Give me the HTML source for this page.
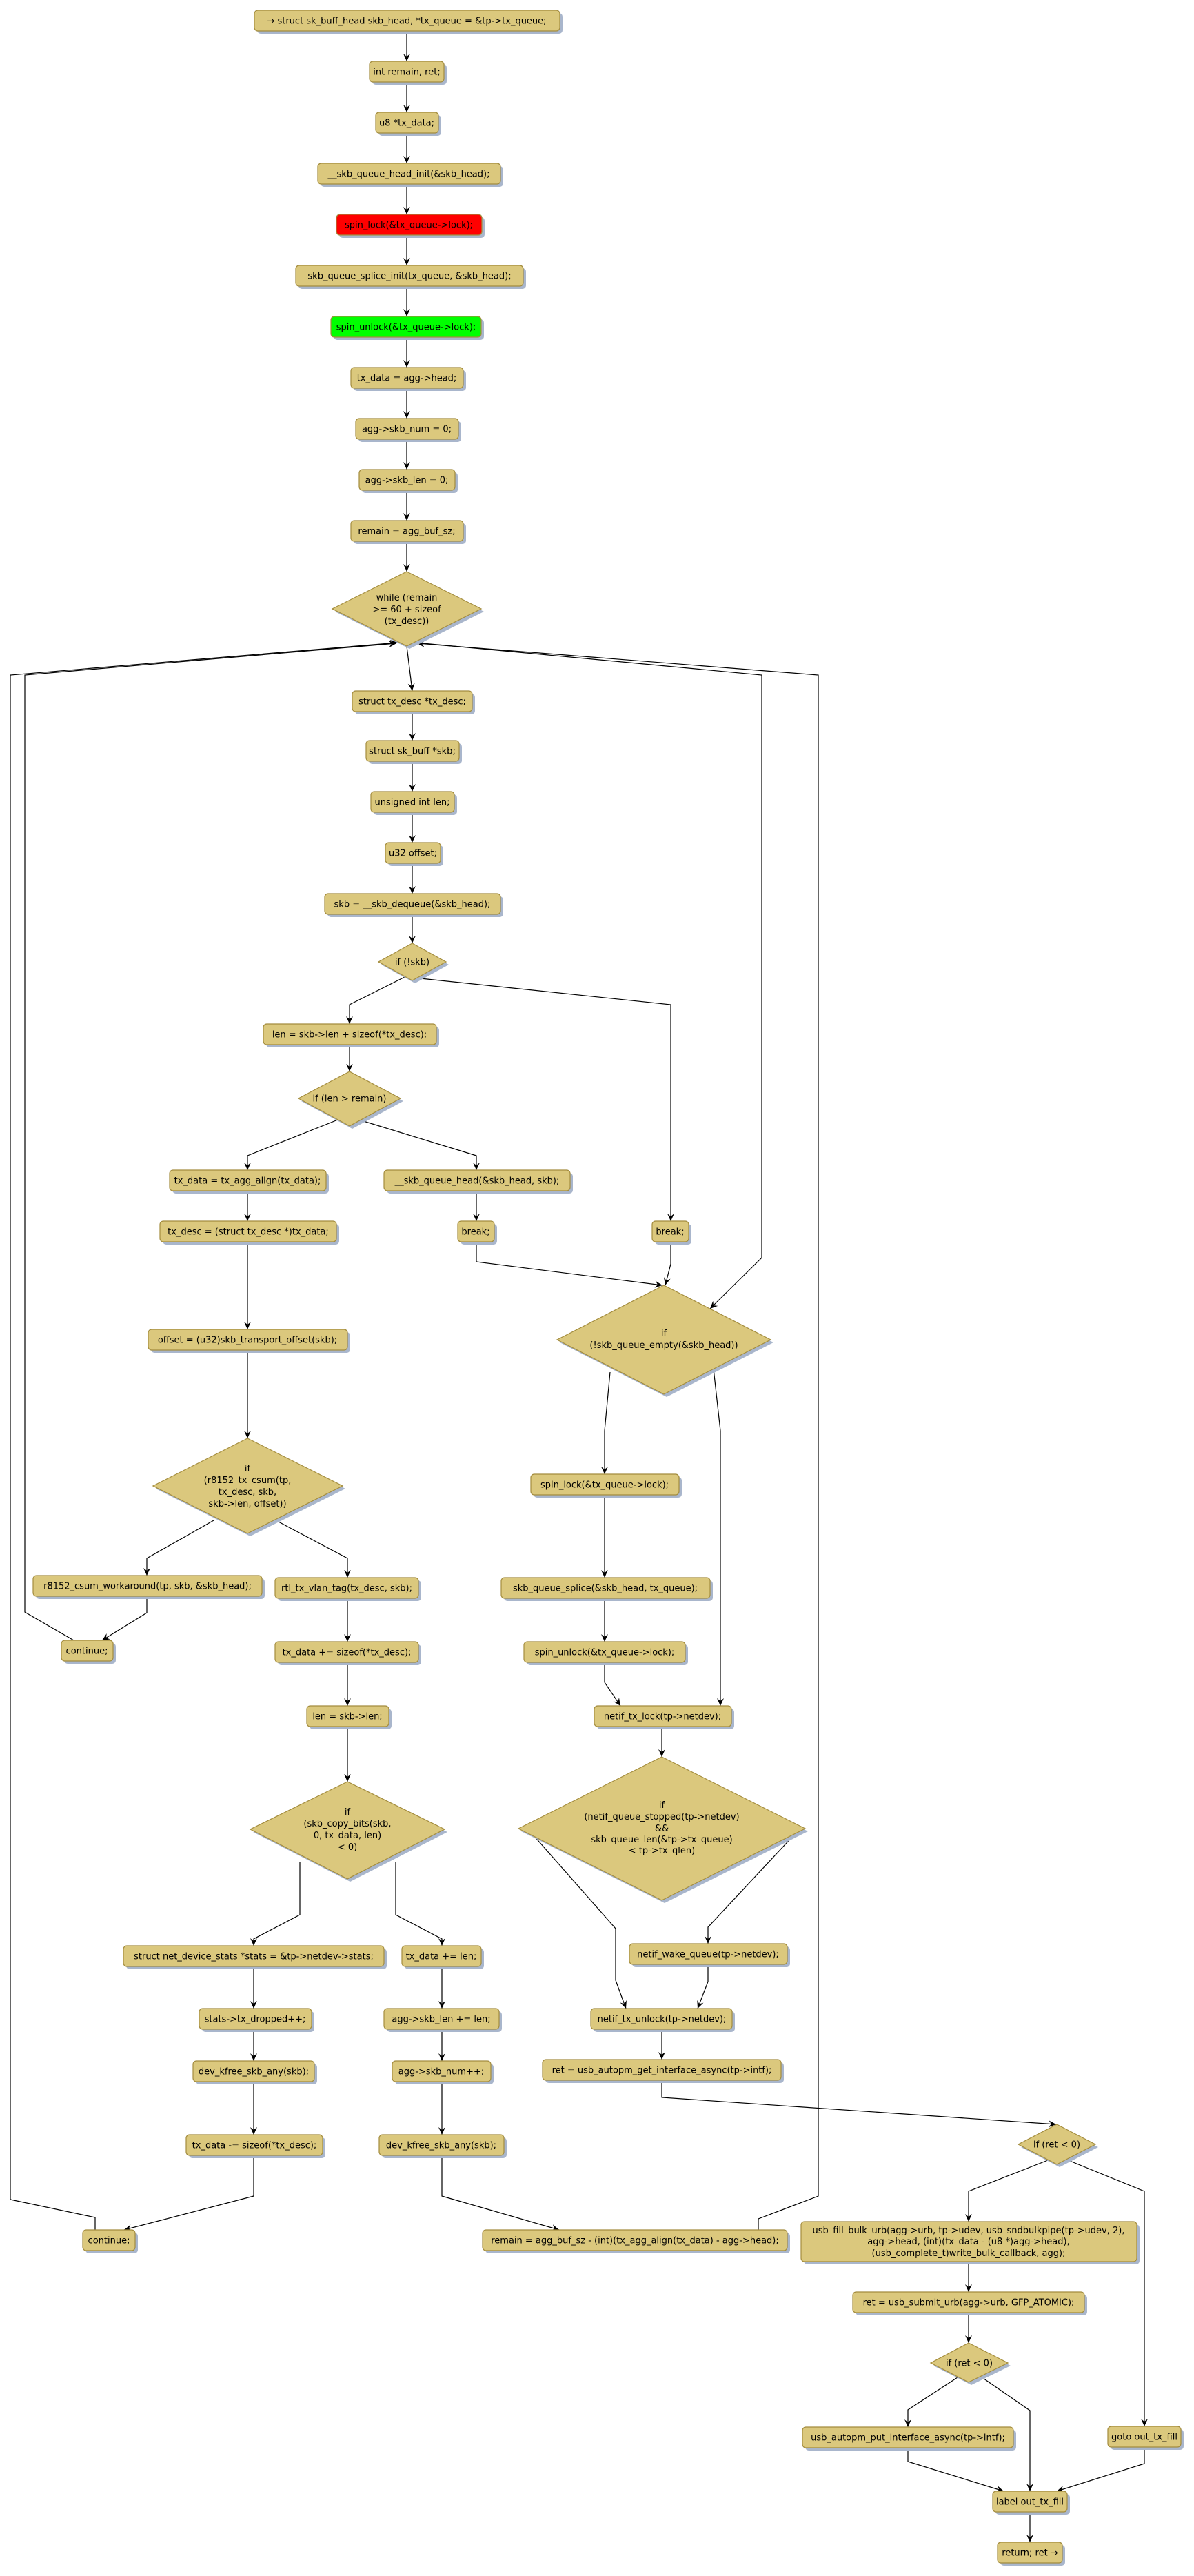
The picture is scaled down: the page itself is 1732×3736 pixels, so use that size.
<!DOCTYPE html>
<html><head><meta charset="utf-8"><style>
html,body{margin:0;padding:0;background:#fff;}
svg{display:block;}
text{font-family:"DejaVu Sans","Liberation Sans",sans-serif;font-size:13px;fill:#000;text-anchor:middle;}
.b{fill:#dbc87d;stroke:#a38c3e;stroke-width:1.2;}
.s{fill:#a9b6cc;}
.e{fill:none;stroke:#000;stroke-width:1.2;}
</style></head><body>
<svg width="1732" height="3736" viewBox="0 0 1732 3736" xmlns="http://www.w3.org/2000/svg">
<defs>
<marker id="a" markerUnits="userSpaceOnUse" markerWidth="12" markerHeight="10" refX="11" refY="5" orient="auto">
<path d="M0,0 L11,5 L0,10 L4,5 z" fill="#000"/></marker>
</defs>

<g class="e">
<path d="M590,45 V89" marker-end="url(#a)"/>
<path d="M590,119 V163" marker-end="url(#a)"/>
<path d="M590,193 V237" marker-end="url(#a)"/>
<path d="M590,267 V311" marker-end="url(#a)"/>
<path d="M590,341 V385" marker-end="url(#a)"/>
<path d="M590,415 V459" marker-end="url(#a)"/>
<path d="M590,489 V533" marker-end="url(#a)"/>
<path d="M590,563 V607" marker-end="url(#a)"/>
<path d="M590,637 V681" marker-end="url(#a)"/>
<path d="M590,711 V755" marker-end="url(#a)"/>
<path d="M590,785 V829" marker-end="url(#a)"/>
<path d="M590,937 L598,1002" marker-end="url(#a)"/>
<path d="M598,1032 V1074" marker-end="url(#a)"/>
<path d="M598,1104 V1148" marker-end="url(#a)"/>
<path d="M598,1178 V1222" marker-end="url(#a)"/>
<path d="M598,1252 V1296" marker-end="url(#a)"/>
<path d="M598,1326 V1368" marker-end="url(#a)"/>
<path d="M587,1417 L507,1457 V1485" marker-end="url(#a)"/>
<path d="M610,1419 L973,1457 V1771" marker-end="url(#a)"/>
<path d="M507,1515 V1554" marker-end="url(#a)"/>
<path d="M490,1624 L359,1676 V1697" marker-end="url(#a)"/>
<path d="M524,1625 L691,1676 V1697" marker-end="url(#a)"/>
<path d="M359,1727 V1771" marker-end="url(#a)"/>
<path d="M691,1727 V1771" marker-end="url(#a)"/>
<path d="M359,1801 V1928" marker-end="url(#a)"/>
<path d="M691,1801 V1830 L961,1864" marker-end="url(#a)"/>
<path d="M973,1801 V1833 L965,1864" marker-end="url(#a)"/>
<path d="M359,1958 V2086" marker-end="url(#a)"/>
<path d="M310,2205 L213,2260 V2285" marker-end="url(#a)"/>
<path d="M404,2207 L504,2260 V2288" marker-end="url(#a)"/>
<path d="M213,2315 V2339 L148,2379" marker-end="url(#a)"/>
<path d="M504,2318 V2381" marker-end="url(#a)"/>
<path d="M504,2411 V2474" marker-end="url(#a)"/>
<path d="M504,2504 V2584" marker-end="url(#a)"/>
<path d="M435,2701 V2777 L368,2812 V2822" marker-end="url(#a)"/>
<path d="M574,2701 V2777 L641,2812 V2822" marker-end="url(#a)"/>
<path d="M368,2852 V2913" marker-end="url(#a)"/>
<path d="M641,2852 V2913" marker-end="url(#a)"/>
<path d="M368,2943 V2989" marker-end="url(#a)"/>
<path d="M641,2943 V2989" marker-end="url(#a)"/>
<path d="M368,3019 V3096" marker-end="url(#a)"/>
<path d="M641,3019 V3096" marker-end="url(#a)"/>
<path d="M368,3126 V3185 L180,3234" marker-end="url(#a)"/>
<path d="M641,3126 V3185 L811,3234" marker-end="url(#a)"/>
<path d="M107,2379 L36,2338 V979 L575,933" marker-end="url(#a)"/>
<path d="M138,3234 V3216 L15,3190 V979 L577,932" marker-end="url(#a)"/>
<path d="M1100,3234 V3218 L1187,3185 V979 L605,933" marker-end="url(#a)"/>
<path d="M603,932 L1105,979 V1824 L1030,1898" marker-end="url(#a)"/>
<path d="M885,1990 L877,2075 V2138" marker-end="url(#a)"/>
<path d="M1035,1985 L1045,2075 V2474" marker-end="url(#a)"/>
<path d="M877,2168 V2288" marker-end="url(#a)"/>
<path d="M877,2318 V2381" marker-end="url(#a)"/>
<path d="M877,2411 V2440 L900,2474" marker-end="url(#a)"/>
<path d="M960,2504 V2548" marker-end="url(#a)"/>
<path d="M774,2662 L893,2797 V2872 L908,2913" marker-end="url(#a)"/>
<path d="M1153,2660 L1027,2795 V2819" marker-end="url(#a)"/>
<path d="M1027,2849 V2874 L1012,2913" marker-end="url(#a)"/>
<path d="M960,2943 V2987" marker-end="url(#a)"/>
<path d="M960,3017 V3042 L1532,3081" marker-end="url(#a)"/>
<path d="M1520,3133 L1405,3178 V3222" marker-end="url(#a)"/>
<path d="M1547,3132 L1660,3178 V3519" marker-end="url(#a)"/>
<path d="M1405,3280 V3324" marker-end="url(#a)"/>
<path d="M1405,3354 V3398" marker-end="url(#a)"/>
<path d="M1389,3448 L1317,3495 V3520" marker-end="url(#a)"/>
<path d="M1423,3447 L1494,3496 V3613" marker-end="url(#a)"/>
<path d="M1317,3550 V3570 L1456,3613" marker-end="url(#a)"/>
<path d="M1660,3549 V3573 L1533,3613" marker-end="url(#a)"/>
<path d="M1494,3643 V3687" marker-end="url(#a)"/>
</g>

<g>
<rect class="s" x="373" y="19" width="443" height="30" rx="5"/><rect class="b" x="369" y="15" width="443" height="30" rx="5"/><text x="590" y="34.5">→ struct sk_buff_head skb_head, *tx_queue = &amp;tp-&gt;tx_queue;</text>
<rect class="s" x="540" y="93" width="108" height="30" rx="5"/><rect class="b" x="536" y="89" width="108" height="30" rx="5"/><text x="590" y="108.5">int remain, ret;</text>
<rect class="s" x="549" y="167" width="91" height="30" rx="5"/><rect class="b" x="545" y="163" width="91" height="30" rx="5"/><text x="590" y="182.5">u8 *tx_data;</text>
<rect class="s" x="465" y="241" width="265" height="30" rx="5"/><rect class="b" x="461" y="237" width="265" height="30" rx="5"/><text x="593" y="256.5">__skb_queue_head_init(&amp;skb_head);</text>
<rect class="s" x="492" y="315" width="211" height="30" rx="5"/><rect x="488" y="311" width="211" height="30" rx="5" fill="#ff0000" stroke="#a38c3e" stroke-width="1.2"/><text x="593" y="330.5">spin_lock(&amp;tx_queue-&gt;lock);</text>
<rect class="s" x="433" y="389" width="330" height="30" rx="5"/><rect class="b" x="429" y="385" width="330" height="30" rx="5"/><text x="594" y="404.5">skb_queue_splice_init(tx_queue, &amp;skb_head);</text>
<rect class="s" x="484" y="463" width="218" height="30" rx="5"/><rect x="480" y="459" width="218" height="30" rx="5" fill="#00ff00" stroke="#a38c3e" stroke-width="1.2"/><text x="589" y="478.5">spin_unlock(&amp;tx_queue-&gt;lock);</text>
<rect class="s" x="513" y="537" width="163" height="30" rx="5"/><rect class="b" x="509" y="533" width="163" height="30" rx="5"/><text x="590" y="552.5">tx_data = agg-&gt;head;</text>
<rect class="s" x="520" y="611" width="149" height="30" rx="5"/><rect class="b" x="516" y="607" width="149" height="30" rx="5"/><text x="590" y="626.5">agg-&gt;skb_num = 0;</text>
<rect class="s" x="525" y="685" width="139" height="30" rx="5"/><rect class="b" x="521" y="681" width="139" height="30" rx="5"/><text x="590" y="700.5">agg-&gt;skb_len = 0;</text>
<rect class="s" x="513" y="759" width="163" height="30" rx="5"/><rect class="b" x="509" y="755" width="163" height="30" rx="5"/><text x="590" y="774.5">remain = agg_buf_sz;</text>

<polygon class="s" points="594,833 702,887 594,941 486,887"/><polygon class="b" points="590,829 698,883 590,937 482,883"/>
<text x="590" y="871">while (remain</text><text x="590" y="888">&gt;= 60 + sizeof</text><text x="590" y="905">(tx_desc))</text>

<rect class="s" x="515" y="1006" width="174" height="30" rx="5"/><rect class="b" x="511" y="1002" width="174" height="30" rx="5"/><text x="598" y="1021.5">struct tx_desc *tx_desc;</text>
<rect class="s" x="535" y="1078" width="135" height="30" rx="5"/><rect class="b" x="531" y="1074" width="135" height="30" rx="5"/><text x="598" y="1093.5">struct sk_buff *skb;</text>
<rect class="s" x="542" y="1152" width="121" height="30" rx="5"/><rect class="b" x="538" y="1148" width="121" height="30" rx="5"/><text x="598" y="1167.5">unsigned int len;</text>
<rect class="s" x="563" y="1226" width="80" height="30" rx="5"/><rect class="b" x="559" y="1222" width="80" height="30" rx="5"/><text x="599" y="1241.5">u32 offset;</text>
<rect class="s" x="475" y="1300" width="255" height="30" rx="5"/><rect class="b" x="471" y="1296" width="255" height="30" rx="5"/><text x="598" y="1315.5">skb = __skb_dequeue(&amp;skb_head);</text>
<polygon class="s" points="602,1372 651,1399 602,1426 553,1399"/><polygon class="b" points="598,1368 647,1395 598,1422 549,1395"/><text x="598" y="1399.5">if (!skb)</text>

<rect class="s" x="386" y="1489" width="251" height="30" rx="5"/><rect class="b" x="382" y="1485" width="251" height="30" rx="5"/><text x="507" y="1504.5">len = skb-&gt;len + sizeof(*tx_desc);</text>
<polygon class="s" points="511,1558 585,1597 511,1637 437,1597"/><polygon class="b" points="507,1554 581,1593 507,1633 433,1593"/><text x="507" y="1597.5">if (len &gt; remain)</text>

<rect class="s" x="250" y="1701" width="227" height="30" rx="5"/><rect class="b" x="246" y="1697" width="227" height="30" rx="5"/><text x="359" y="1716.5">tx_data = tx_agg_align(tx_data);</text>
<rect class="s" x="561" y="1701" width="270" height="30" rx="5"/><rect class="b" x="557" y="1697" width="270" height="30" rx="5"/><text x="692" y="1716.5">__skb_queue_head(&amp;skb_head, skb);</text>
<rect class="s" x="236" y="1775" width="256" height="30" rx="5"/><rect class="b" x="232" y="1771" width="256" height="30" rx="5"/><text x="360" y="1790.5">tx_desc = (struct tx_desc *)tx_data;</text>
<rect class="s" x="668" y="1775" width="53" height="30" rx="5"/><rect class="b" x="664" y="1771" width="53" height="30" rx="5"/><text x="690" y="1790.5">break;</text>
<rect class="s" x="950" y="1775" width="53" height="30" rx="5"/><rect class="b" x="946" y="1771" width="53" height="30" rx="5"/><text x="972" y="1790.5">break;</text>

<rect class="s" x="219" y="1932" width="289" height="30" rx="5"/><rect class="b" x="215" y="1928" width="289" height="30" rx="5"/><text x="359" y="1947.5">offset = (u32)skb_transport_offset(skb);</text>
<polygon class="s" points="967,1868 1122,1947 967,2026 812,1947"/><polygon class="b" points="963,1864 1118,1943 963,2022 808,1943"/>
<text x="963" y="1938">if</text><text x="963" y="1955">(!skb_queue_empty(&amp;skb_head))</text>

<polygon class="s" points="363,2090 501,2159 363,2228 226,2159"/><polygon class="b" points="359,2086 497,2155 359,2224 222,2155"/>
<text x="359" y="2134">if</text><text x="359" y="2151">(r8152_tx_csum(tp,</text><text x="359" y="2168">tx_desc, skb,</text><text x="359" y="2185">skb-&gt;len, offset))</text>

<rect class="s" x="52" y="2289" width="332" height="30" rx="5"/><rect class="b" x="48" y="2285" width="332" height="30" rx="5"/><text x="214" y="2304.5">r8152_csum_workaround(tp, skb, &amp;skb_head);</text>
<rect class="s" x="403" y="2292" width="208" height="30" rx="5"/><rect class="b" x="399" y="2288" width="208" height="30" rx="5"/><text x="503" y="2307.5">rtl_tx_vlan_tag(tx_desc, skb);</text>
<rect class="s" x="93" y="2383" width="75" height="30" rx="5"/><rect class="b" x="89" y="2379" width="75" height="30" rx="5"/><text x="126" y="2398.5">continue;</text>
<rect class="s" x="403" y="2385" width="208" height="30" rx="5"/><rect class="b" x="399" y="2381" width="208" height="30" rx="5"/><text x="503" y="2400.5">tx_data += sizeof(*tx_desc);</text>
<rect class="s" x="449" y="2478" width="119" height="30" rx="5"/><rect class="b" x="445" y="2474" width="119" height="30" rx="5"/><text x="504" y="2493.5">len = skb-&gt;len;</text>

<polygon class="s" points="508,2588 649,2657 508,2729 367,2657"/><polygon class="b" points="504,2584 645,2653 504,2725 363,2653"/>
<text x="504" y="2632">if</text><text x="504" y="2649">(skb_copy_bits(skb,</text><text x="504" y="2666">0, tx_data, len)</text><text x="504" y="2683">&lt; 0)</text>

<rect class="s" x="183" y="2826" width="378" height="30" rx="5"/><rect class="b" x="179" y="2822" width="378" height="30" rx="5"/><text x="368" y="2841.5">struct net_device_stats *stats = &amp;tp-&gt;netdev-&gt;stats;</text>
<rect class="s" x="587" y="2826" width="115" height="30" rx="5"/><rect class="b" x="583" y="2822" width="115" height="30" rx="5"/><text x="640" y="2841.5">tx_data += len;</text>
<rect class="s" x="293" y="2917" width="163" height="30" rx="5"/><rect class="b" x="289" y="2913" width="163" height="30" rx="5"/><text x="370" y="2932.5">stats-&gt;tx_dropped++;</text>
<rect class="s" x="561" y="2917" width="167" height="30" rx="5"/><rect class="b" x="557" y="2913" width="167" height="30" rx="5"/><text x="640" y="2932.5">agg-&gt;skb_len += len;</text>
<rect class="s" x="284" y="2993" width="176" height="30" rx="5"/><rect class="b" x="280" y="2989" width="176" height="30" rx="5"/><text x="368" y="3008.5">dev_kfree_skb_any(skb);</text>
<rect class="s" x="573" y="2993" width="143" height="30" rx="5"/><rect class="b" x="569" y="2989" width="143" height="30" rx="5"/><text x="640" y="3008.5">agg-&gt;skb_num++;</text>
<rect class="s" x="274" y="3100" width="198" height="30" rx="5"/><rect class="b" x="270" y="3096" width="198" height="30" rx="5"/><text x="369" y="3115.5">tx_data -= sizeof(*tx_desc);</text>
<rect class="s" x="554" y="3100" width="181" height="30" rx="5"/><rect class="b" x="550" y="3096" width="181" height="30" rx="5"/><text x="640" y="3115.5">dev_kfree_skb_any(skb);</text>
<rect class="s" x="124" y="3238" width="76" height="30" rx="5"/><rect class="b" x="120" y="3234" width="76" height="30" rx="5"/><text x="158" y="3253.5">continue;</text>
<rect class="s" x="704" y="3238" width="442" height="30" rx="5"/><rect class="b" x="700" y="3234" width="442" height="30" rx="5"/><text x="921" y="3253.5">remain = agg_buf_sz - (int)(tx_agg_align(tx_data) - agg-&gt;head);</text>

<rect class="s" x="774" y="2142" width="215" height="30" rx="5"/><rect class="b" x="770" y="2138" width="215" height="30" rx="5"/><text x="877" y="2157.5">spin_lock(&amp;tx_queue-&gt;lock);</text>
<rect class="s" x="731" y="2292" width="303" height="30" rx="5"/><rect class="b" x="727" y="2288" width="303" height="30" rx="5"/><text x="878" y="2307.5">skb_queue_splice(&amp;skb_head, tx_queue);</text>
<rect class="s" x="764" y="2385" width="234" height="30" rx="5"/><rect class="b" x="760" y="2381" width="234" height="30" rx="5"/><text x="877" y="2400.5">spin_unlock(&amp;tx_queue-&gt;lock);</text>
<rect class="s" x="866" y="2478" width="199" height="30" rx="5"/><rect class="b" x="862" y="2474" width="199" height="30" rx="5"/><text x="961" y="2493.5">netif_tx_lock(tp-&gt;netdev);</text>

<polygon class="s" points="964,2552 1172,2656 964,2760 756,2656"/><polygon class="b" points="960,2548 1168,2652 960,2756 752,2652"/>
<text x="960" y="2622">if</text><text x="960" y="2639">(netif_queue_stopped(tp-&gt;netdev)</text><text x="960" y="2656">&amp;&amp;</text><text x="960" y="2672">skb_queue_len(&amp;tp-&gt;tx_queue)</text><text x="960" y="2688">&lt; tp-&gt;tx_qlen)</text>

<rect class="s" x="917" y="2823" width="229" height="30" rx="5"/><rect class="b" x="913" y="2819" width="229" height="30" rx="5"/><text x="1027" y="2838.5">netif_wake_queue(tp-&gt;netdev);</text>
<rect class="s" x="861" y="2917" width="205" height="30" rx="5"/><rect class="b" x="857" y="2913" width="205" height="30" rx="5"/><text x="960" y="2932.5">netif_tx_unlock(tp-&gt;netdev);</text>
<rect class="s" x="791" y="2991" width="346" height="30" rx="5"/><rect class="b" x="787" y="2987" width="346" height="30" rx="5"/><text x="960" y="3006.5">ret = usb_autopm_get_interface_async(tp-&gt;intf);</text>

<polygon class="s" points="1537,3085 1593,3114 1537,3143 1481,3114"/><polygon class="b" points="1533,3081 1589,3110 1533,3139 1477,3110"/><text x="1533" y="3114.5">if (ret &lt; 0)</text>

<rect class="s" x="1166" y="3226" width="487" height="58" rx="5"/><rect class="b" x="1162" y="3222" width="487" height="58" rx="5"/>
<text x="1405" y="3239">usb_fill_bulk_urb(agg-&gt;urb, tp-&gt;udev, usb_sndbulkpipe(tp-&gt;udev, 2),</text>
<text x="1405" y="3255">agg-&gt;head, (int)(tx_data - (u8 *)agg-&gt;head),</text>
<text x="1405" y="3272">(usb_complete_t)write_bulk_callback, agg);</text>
<rect class="s" x="1241" y="3328" width="336" height="30" rx="5"/><rect class="b" x="1237" y="3324" width="336" height="30" rx="5"/><text x="1405" y="3343.5">ret = usb_submit_urb(agg-&gt;urb, GFP_ATOMIC);</text>
<polygon class="s" points="1409,3402 1466,3431 1409,3459 1354,3431"/><polygon class="b" points="1405,3398 1462,3427 1405,3455 1350,3427"/><text x="1406" y="3431.5">if (ret &lt; 0)</text>

<rect class="s" x="1168" y="3524" width="306" height="30" rx="5"/><rect class="b" x="1164" y="3520" width="306" height="30" rx="5"/><text x="1317" y="3539.5">usb_autopm_put_interface_async(tp-&gt;intf);</text>
<rect class="s" x="1611" y="3523" width="106" height="30" rx="5"/><rect class="b" x="1607" y="3519" width="106" height="30" rx="5"/><text x="1660" y="3538.5">goto out_tx_fill</text>
<rect class="s" x="1444" y="3617" width="108" height="30" rx="5"/><rect class="b" x="1440" y="3613" width="108" height="30" rx="5"/><text x="1494" y="3632.5">label out_tx_fill</text>
<rect class="s" x="1451" y="3691" width="94" height="30" rx="5"/><rect class="b" x="1447" y="3687" width="94" height="30" rx="5"/><text x="1494" y="3706.5">return; ret →</text>
</g>
</svg>
</body></html>
